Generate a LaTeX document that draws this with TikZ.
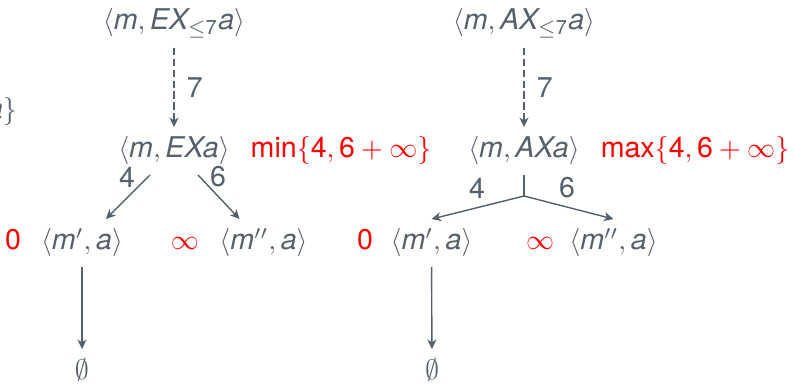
\documentclass[tikz,border=0pt]{standalone}
\usepackage{amsmath}
\usepackage{fontspec}
\setmainfont{TeX Gyre Heros}
\usetikzlibrary{arrows.meta, positioning}
\definecolor{slategray}{RGB}{85,96,107}
\definecolor{costred}{RGB}{255,0,0}
\newcommand{\mv}[1]{\textit{#1}}

\begin{document}
\begin{tikzpicture}[
  x=0.01255cm, y=0.01255cm,
  font=\fontsize{10.2}{12}\selectfont,
  state/.style={anchor=base, text=slategray},
  cost/.style={anchor=base, text=costred},
  weight/.style={text=slategray},
  edge/.style={draw=slategray, line width=0.5pt, -{Stealth[length=3.4pt, width=3.2pt, inset=1pt]}},
  jump/.style={edge, dash pattern=on 2.7pt off 1.2pt}
]
\useasboundingbox (0,0) rectangle (795,383);
\node[state] (cut) at (-5,264) {$\{\mv{a}\}$};
% EX side
\node[state] (et) at (174,353) {$\langle\mv{m}, \mv{EX}_{\le\text{7}}\mv{a}\rangle$};
\node[state] (ex) at (174,225) {$\langle\mv{m}, \mv{EXa}\rangle$};
\node[cost] (exc) at (341,225) {min$\{\text{4}, \text{6}+\infty\}$};
\node[state] (m1) at (82,133) {$\langle\mv{m}', \mv{a}\rangle$};
\node[state] (m2) at (263.5,133) {$\langle\mv{m}'', \mv{a}\rangle$};
\node[cost] (c1) at (13,133) {0};
\node[cost] (c2) at (185,133) {$\infty$};
\node[state] (e1) at (82,3) {$\emptyset$};
\draw[jump] (et) -- node[weight, right=1pt] {7} (ex);
\draw[edge] (ex.225) -- (m1.45);
\draw[edge] (ex.315) -- (m2.135);
\node[weight] at (127,206) {4};
\node[weight] at (218,206) {6};
\draw[edge] (m1) -- (e1);
% AX side
\node[state] (at) at (524,353) {$\langle\mv{m}, \mv{AX}_{\le\text{7}}\mv{a}\rangle$};
\node[state] (ax) at (524,225) {$\langle\mv{m}, \mv{AXa}\rangle$};
\node[cost] (axc) at (695,225) {max$\{\text{4}, \text{6}+\infty\}$};
\node[state] (m3) at (431.5,133) {$\langle\mv{m}', \mv{a}\rangle$};
\node[state] (m4) at (613.5,133) {$\langle\mv{m}'', \mv{a}\rangle$};
\node[cost] (c3) at (365,133) {0};
\node[cost] (c4) at (540,133) {$\infty$};
\node[state] (e2) at (432,3) {$\emptyset$};
\draw[jump] (at) -- node[weight, right=1pt] {7} (ax);
\coordinate (fk) at (524,187);
\draw[draw=slategray, line width=0.5pt] (ax) -- (fk);
\draw[edge] (fk) -- (m3.north);
\draw[edge] (fk) -- (m4.north);
\node[weight] at (477,195) {4};
\node[weight] at (567,195) {6};
\draw[edge] (m3) -- (e2);
\end{tikzpicture}
\end{document}
